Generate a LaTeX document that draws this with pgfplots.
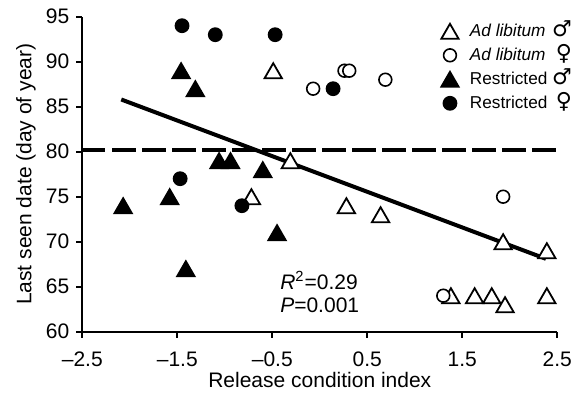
\documentclass[border=0pt]{standalone}
\usepackage{fontspec}
\setmainfont{Liberation Sans}
\newfontfamily\symfont{DejaVu Sans}
\usepackage{pgfplots}
\pgfplotsset{compat=1.18}
\newcommand{\male}{{\symfont\bfseries\fontsize{11}{11}\selectfont ♂}}
\newcommand{\female}{{\symfont\bfseries\fontsize{11}{11}\selectfont ♀}}
\begin{document}
\begin{tikzpicture}
\path[use as bounding box] (-41.15pt,-30.15pt) rectangle (247.85pt,165.85pt);
\begin{axis}[
  at={(0pt,0pt)}, anchor=south west,
  scale only axis, width=237.5pt, height=157.5pt,
  xmin=-2.5, xmax=2.5, ymin=60, ymax=95,
  axis x line*=bottom, axis y line*=left,
  axis line style={line width=1pt, black},
  tick align=outside, major tick length=3pt,
  tick style={line width=1pt, black},
  xtick={-2.5,-1.5,-0.5,0.5,1.5,2.5},
  xticklabels={–2.5,–1.5,–0.5,0.5,1.5,2.5},
  ytick={60,65,70,75,80,85,90,95},
  /pgf/number format/assume math mode=true,
  font=\fontsize{10.5}{12}\selectfont,
  xticklabel style={yshift=-3.5pt},
  xlabel={Release condition index},
  ylabel={Last seen date (day of year)},
  xlabel style={at={(axis description cs:0.5,-0.1533)}, anchor=center},
  ylabel style={at={(axis description cs:-0.1185,0.5)}, anchor=center},
  clip=false,
  legend style={draw=none, fill=none, inner sep=0pt, outer sep=0pt,
    at={(axis cs:1.265,94.6)}, anchor=north west,
    font=\fontsize{8.6}{11}\selectfont,
    nodes={inner sep=1pt, text height=7pt, text depth=2pt},
    row sep=1pt},
  legend cell align=left,
  legend image code/.code={\path[draw=none, fill=none] (0pt,-1pt) rectangle (14pt,1pt); \draw plot coordinates {(5pt,0pt)};},
]
\addplot[no marks, line width=2pt, dash pattern=on 11.6pt off 3.4pt, forget plot] coordinates {(-2.5,80.2) (2.5,80.2)};
\addplot[no marks, line width=2pt, forget plot] coordinates {(-2.09,85.8) (2.38,68.1)};

% Ad libitum males
\addplot[only marks, mark=triangle*, mark size=5pt, mark options={fill=white, draw=black, line width=0.9pt, yshift=-1.25pt}] coordinates {
(-0.49,89) (-0.31,79) (-0.72,75) (0.28,74) (0.64,73) (1.93,70) (2.39,69)
(1.38,64) (1.63,64) (1.81,64) (1.95,63) (2.39,64)};
\addlegendentry{\makebox[51pt][l]{\textit{Ad libitum}\hfill\male}}
% Ad libitum females
\addplot[only marks, mark=*, mark size=3.2pt, mark options={fill=white, draw=black, line width=0.8pt}] coordinates {
(0.26,89) (0.31,89) (0.69,88) (-0.07,87) (1.93,75) (1.30,64)};
\addlegendentry{\makebox[51pt][l]{\textit{Ad libitum}\hfill\female}}
% Restricted males
\addplot[only marks, mark=triangle*, mark size=5pt, mark options={fill=black, draw=black, line width=0.9pt, yshift=-1.25pt}] coordinates {
(-2.07,74) (-1.58,75) (-1.41,67) (-1.46,89) (-1.31,87) (-1.06,79) (-0.94,79) (-0.60,78) (-0.45,71)};
\addlegendentry{\makebox[51pt][l]{Restricted\hfill\male}}
% Restricted females
\addplot[only marks, mark=*, mark size=3.3pt, mark options={fill=black, draw=black, line width=0.8pt}] coordinates {
(-1.45,94) (-1.10,93) (-0.47,93) (-1.47,77) (-0.82,74) (0.14,87)};
\addlegendentry{\makebox[51pt][l]{Restricted\hfill\female}}

\node[anchor=west, align=left, font=\fontsize{10.5}{11.5}\selectfont, inner sep=0pt] at (axis cs:-0.42,64.45) {\textit{R}\textsuperscript{2}=0.29\\\textit{P}=0.001};
\end{axis}
\end{tikzpicture}
\end{document}
